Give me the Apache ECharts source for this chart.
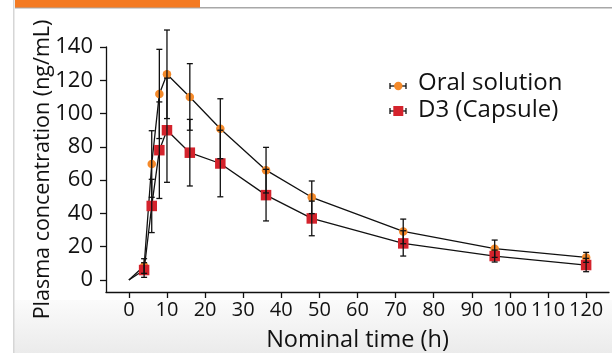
<!DOCTYPE html>
<html>
<head>
<meta charset="utf-8">
<script src="https://cdn.jsdelivr.net/npm/echarts@6/dist/echarts.min.js"></script>
<style>
html,body{margin:0;padding:0;background:#fff;}
#chart{width:612px;height:353px;}
</style>
</head>
<body>
<div id="chart"></div>
<script>
// ---- Data ----
const times = [0, 4, 6, 8, 10, 16, 24, 36, 48, 72, 96, 120];
const oralMean = [0, 8.4, 69.7, 111.8, 123.6, 110, 90.9, 66, 49.7, 29.2, 18.8, 13.6];
const oralSD   = [null, 4.4, 20, 26.8, 26.6, 20, 18, 13.7, 9.8, 7.4, 5.2, 3];
const capMean  = [0, 6, 44.5, 78, 90, 76.5, 70, 51, 37, 22, 14.4, 9];
const capSD    = [null, 4.4, 16, 29, 31.3, 20, 20, 15.5, 10.4, 7.6, 3.6, 4];
const xTicks = [0, 10, 20, 30, 40, 50, 60, 70, 80, 90, 100, 110, 120];
const yTicks = [0, 20, 40, 60, 80, 100, 120, 140];
const seriesNames = ['Oral solution', 'D3 (Capsule)'];
const xTitle = 'Nominal time (h)';
const yTitle = 'Plasma concentration (ng/mL)';

const FONT = "'Open Sans', 'Noto Sans', sans-serif";
const ORANGE = '#F58A2A';
const RED = '#D4232C';
const INK = '#111111';

const chart = echarts.init(document.getElementById('chart'), null, {renderer: 'canvas'});

function linePts(mean) { return times.map((t, i) => [t, mean[i]]); }
function errPts(mean, sd) {
  const out = [];
  times.forEach((t, i) => { if (sd[i] != null) out.push([t, mean[i], sd[i]]); });
  return out;
}
function errRender(params, api) {
  const x = api.value(0), m = api.value(1), s = api.value(2);
  const top = api.coord([x, m + s]);
  const bot = api.coord([x, m - s]);
  const hw = 3;
  const st = {stroke: INK, lineWidth: 1.3};
  return {type: 'group', children: [
    {type: 'line', shape: {x1: top[0], y1: top[1], x2: bot[0], y2: bot[1]}, style: st},
    {type: 'line', shape: {x1: top[0] - hw, y1: top[1], x2: top[0] + hw, y2: top[1]}, style: st},
    {type: 'line', shape: {x1: bot[0] - hw, y1: bot[1], x2: bot[0] + hw, y2: bot[1]}, style: st}
  ]};
}

const option = {
  animation: false,
  backgroundColor: '#ffffff',
  textStyle: {fontFamily: FONT},
  grid: {left: 106, right: 3, top: 47, bottom: 61, containLabel: false, outerBoundsMode: 'none'},
  xAxis: {
    type: 'value', min: -6, max: 126,
    name: xTitle, nameLocation: 'middle', nameGap: 36, nameMoveOverlap: false,
    nameTextStyle: {fontSize: 23.5, color: INK, fontFamily: FONT},
    axisLine: {show: true, onZero: false, lineStyle: {color: INK, width: 1.3}},
    axisTick: {show: true, length: 6, inside: false, customValues: xTicks, lineStyle: {color: INK, width: 1.3}},
    axisLabel: {customValues: xTicks, fontSize: 20, color: INK, margin: 8, fontFamily: FONT},
    splitLine: {show: false}
  },
  yAxis: {
    type: 'value', min: -7.2, max: 140,
    name: yTitle, nameLocation: 'middle', nameGap: 52, nameRotate: 90, nameMoveOverlap: false,
    nameTextStyle: {fontSize: 21.5, color: INK, fontFamily: FONT},
    axisLine: {show: true, onZero: false, lineStyle: {color: INK, width: 1.3}},
    axisTick: {show: true, length: 6, inside: false, customValues: yTicks, lineStyle: {color: INK, width: 1.3}},
    axisLabel: {customValues: yTicks, fontSize: 22, color: INK, margin: 13, fontFamily: FONT},
    splitLine: {show: false}
  },
  graphic: [
    // page frame pieces seen in the reference screenshot
    {type: 'rect', z: -100, shape: {x: 14, y: 300, width: 598, height: 53},
     style: {fill: new echarts.graphic.LinearGradient(0, 0, 0, 1, [{offset: 0, color: '#fbfbfb'}, {offset: 1, color: '#ebebeb'}])}},
    {type: 'rect', z: -90, shape: {x: 13, y: 0, width: 1.5, height: 353}, style: {fill: '#d6d6d6'}},
    {type: 'rect', z: -90, shape: {x: 15, y: 7, width: 597, height: 1.5}, style: {fill: '#a8a8a8'}},
    {type: 'rect', z: -80, shape: {x: 15, y: 0, width: 185, height: 7.5}, style: {fill: '#F47A22'}},
    // legend
    {type: 'group', z: 100, children: [
      {type: 'line', shape: {x1: 390, y1: 86, x2: 406, y2: 86}, style: {stroke: INK, lineWidth: 1.3}},
      {type: 'line', shape: {x1: 390, y1: 83, x2: 390, y2: 89}, style: {stroke: INK, lineWidth: 1.3}},
      {type: 'line', shape: {x1: 406, y1: 83, x2: 406, y2: 89}, style: {stroke: INK, lineWidth: 1.3}},
      {type: 'circle', shape: {cx: 398.3, cy: 86, r: 4.2}, style: {fill: ORANGE}},
      {type: 'text', x: 418, y: 83.5, style: {text: seriesNames[0], fontSize: 24, fontFamily: FONT, fill: INK, verticalAlign: 'middle', align: 'left'}},
      {type: 'line', shape: {x1: 390, y1: 111, x2: 406, y2: 111}, style: {stroke: INK, lineWidth: 1.3}},
      {type: 'line', shape: {x1: 390, y1: 108, x2: 390, y2: 114}, style: {stroke: INK, lineWidth: 1.3}},
      {type: 'line', shape: {x1: 406, y1: 108, x2: 406, y2: 114}, style: {stroke: INK, lineWidth: 1.3}},
      {type: 'rect', shape: {x: 393.3, y: 106, width: 10, height: 10}, style: {fill: RED}},
      {type: 'text', x: 418, y: 110.5, style: {text: seriesNames[1], fontSize: 24, fontFamily: FONT, fill: INK, verticalAlign: 'middle', align: 'left'}}
    ]}
  ],
  series: [
    {
      name: seriesNames[0], type: 'line', data: linePts(oralMean), z: 3,
      symbol: (v) => v[0] === 0 ? 'none' : 'circle', symbolSize: 8.5,
      itemStyle: {color: ORANGE}, lineStyle: {color: INK, width: 1.3}
    },
    {
      name: seriesNames[1], type: 'line', data: linePts(capMean), z: 3,
      symbol: (v) => v[0] === 0 ? 'none' : 'rect', symbolSize: 10.5,
      itemStyle: {color: RED}, lineStyle: {color: INK, width: 1.3}
    },
    {
      type: 'custom', name: 'err1', data: errPts(oralMean, oralSD), z: 5,
      renderItem: errRender, encode: {x: 0, y: 1}, silent: true
    },
    {
      type: 'custom', name: 'err2', data: errPts(capMean, capSD), z: 5,
      renderItem: errRender, encode: {x: 0, y: 1}, silent: true
    }
  ]
};
chart.setOption(option);
</script>
</body>
</html>
